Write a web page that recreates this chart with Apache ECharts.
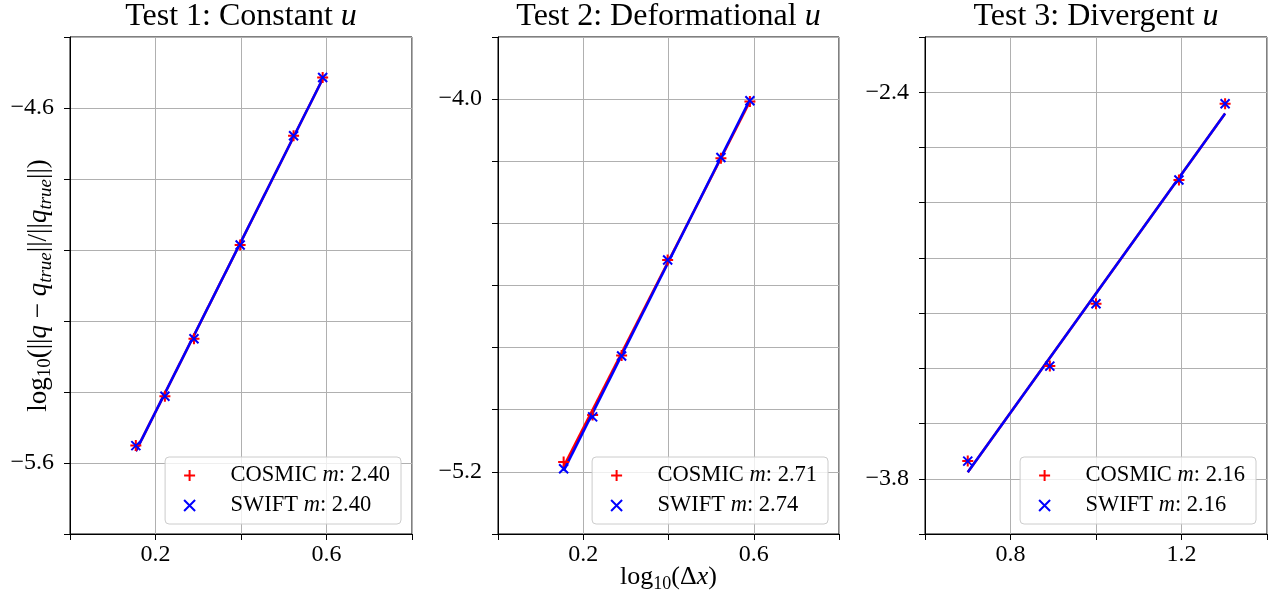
<!DOCTYPE html>
<html>
<head>
<meta charset="utf-8">
<script src="https://cdn.jsdelivr.net/npm/echarts@6/dist/echarts.min.js"></script>
<style>
  html, body { margin: 0; padding: 0; background: #fff; }
  #chart { width: 1275px; height: 593px; }
</style>
</head>
<body>
<div id="chart"></div>
<script>
// log10(dx) values, shared by tests 1 and 2
const xTest12 = [0.154, 0.222, 0.290, 0.398, 0.523, 0.591];
const xTest3 = [0.700, 0.892, 1.000, 1.194, 1.302];

// log10 of relative error
const cosmic1 = [-5.551, -5.412, -5.250, -4.986, -4.678, -4.514];
const swift1  = [-5.551, -5.412, -5.250, -4.986, -4.678, -4.514];
const cosmic2 = [-5.168, -5.017, -4.825, -4.518, -4.190, -4.008];
const swift2  = [-5.190, -5.023, -4.827, -4.518, -4.188, -4.005];
const cosmic3 = [-3.736, -3.392, -3.166, -2.718, -2.442];
const swift3  = [-3.736, -3.392, -3.166, -2.718, -2.442];

// slopes printed in the legends
const cosmicSlopes = ['2.40', '2.71', '2.16'];
const swiftSlopes  = ['2.40', '2.74', '2.16'];

const titles = ['Test 1: Constant ', 'Test 2: Deformational ', 'Test 3: Divergent '];

// tick labels that are actually written
const xLabels1 = [0.2, 0.6];
const xLabels2 = [0.2, 0.6];
const xLabels3 = [0.8, 1.2];
const yLabels1 = [-4.6, -5.6];
const yLabels2 = [-4.0, -5.2];
const yLabels3 = [-2.4, -3.8];

const FONT = 'Liberation Serif';
const PLUS = 'path://M-1 0L1 0M0 -1L0 1';
const CROSS = 'path://M-1 -1L1 1M-1 1L1 -1';

// least squares fit, returns the two end points of the line
function fitLine(xs, ys) {
    var n = xs.length, mx = 0, my = 0;
    for (var i = 0; i < n; i++) { mx += xs[i]; my += ys[i]; }
    mx /= n; my /= n;
    var sxy = 0, sxx = 0;
    for (var i = 0; i < n; i++) {
        sxy += (xs[i] - mx) * (ys[i] - my);
        sxx += (xs[i] - mx) * (xs[i] - mx);
    }
    var b = sxy / sxx, a = my - b * mx;
    var x0 = Math.min.apply(null, xs), x1 = Math.max.apply(null, xs);
    return [[x0, a + b * x0], [x1, a + b * x1]];
}

function pairs(xs, ys) {
    return xs.map(function (x, i) { return [x, ys[i]]; });
}

function fmt(v) {
    return v.toFixed(1).replace('-', '\u2212');
}

function rt(size, extra) {
    return Object.assign({ fontFamily: FONT, fontSize: size, color: '#000', fontWeight: 'normal' }, extra || {});
}

const richX = {
    n: rt(26, { lineHeight: 32 }),
    i: rt(26, { fontStyle: 'italic', lineHeight: 32 }),
    s: rt(18, { lineHeight: 32, verticalAlign: 'bottom' })
};
const richY = {
    n: rt(27, { lineHeight: 32 }),
    i: rt(27, { fontStyle: 'italic', lineHeight: 32 }),
    s: rt(19, { lineHeight: 32, verticalAlign: 'bottom' }),
    si: rt(19, { fontStyle: 'italic', lineHeight: 32, verticalAlign: 'bottom' })
};

const grids = [
    { left: 70, top: 37, width: 342, height: 497 },
    { left: 498, top: 37, width: 341, height: 497 },
    { left: 925, top: 37, width: 342, height: 497 }
];
const xRanges = [[0, 0.8], [0, 0.8], [0.6, 1.4]];
const yRanges = [[-5.8, -4.4], [-5.4, -3.8], [-4.0, -2.2]];
const xLabelSets = [xLabels1, xLabels2, xLabels3];
const yLabelSets = [yLabels1, yLabels2, yLabels3];
const xData = [xTest12, xTest12, xTest3];
const cosmicData = [cosmic1, cosmic2, cosmic3];
const swiftData = [swift1, swift2, swift3];

function axisCommon(labels) {
    return {
        axisLine: { show: true, lineStyle: { color: '#000', width: 1 } },
        axisTick: { show: true, length: 6, lineStyle: { color: '#000', width: 1 } },
        splitLine: { show: true, lineStyle: { color: '#b0b0b0', width: 1 } },
        axisLabel: {
            fontFamily: FONT, fontSize: 24, color: '#000',
            showMinLabel: true, showMaxLabel: true,
            formatter: function (v) {
                var r = Math.round(v * 10) / 10;
                return labels.indexOf(r) >= 0 ? fmt(r) : '';
            }
        }
    };
}

var xAxes = [], yAxes = [], series = [], legends = [], titleList = [];
for (var k = 0; k < 3; k++) {
    var g = grids[k];
    titleList.push({
        text: '{n|' + titles[k] + '}{i|u}',
        left: g.left + g.width / 2,
        top: 0,
        padding: 0,
        textAlign: 'center',
        textStyle: {
            fontWeight: 'normal',
            rich: {
                n: rt(32, { lineHeight: 34 }),
                i: rt(32, { fontStyle: 'italic', lineHeight: 34 })
            }
        }
    });
    var xa = Object.assign({
        type: 'value', gridIndex: k,
        min: xRanges[k][0], max: xRanges[k][1], interval: 0.2
    }, axisCommon(xLabelSets[k]));
    xa.axisLabel.margin = 9;
    if (k === 1) {
        xa.name = '{n|log}{s|10}{n|(\u0394}{i|x}{n|)}';
        xa.nameLocation = 'middle';
        xa.nameGap = 27;
        xa.nameMoveOverlap = false;
        xa.nameTextStyle = { fontFamily: FONT, fontSize: 26, color: '#000', rich: richX };
    }
    xAxes.push(xa);
    var ya = Object.assign({
        type: 'value', gridIndex: k,
        min: yRanges[k][0], max: yRanges[k][1], interval: 0.2
    }, axisCommon(yLabelSets[k]));
    ya.axisLabel.margin = 16;
    if (k === 0) {
        ya.name = '{n|log}{s|10}{n|(||}{i|q}{n| \u2212 }{i|q}{si|true}{n|||/||}{i|q}{si|true}{n|||)}';
        ya.nameLocation = 'middle';
        ya.nameRotate = 90;
        ya.nameGap = 15;
        ya.nameMoveOverlap = false;
        ya.nameTextStyle = { fontFamily: FONT, fontSize: 27, color: '#000', rich: richY };
    }
    yAxes.push(ya);

    var cName = 'COSMIC m: ' + cosmicSlopes[k];
    var sName = 'SWIFT m: ' + swiftSlopes[k];
    series.push({
        name: 'COSMIC fit ' + k, type: 'line', xAxisIndex: k, yAxisIndex: k,
        data: fitLine(xData[k], cosmicData[k]), showSymbol: false, symbol: 'none',
        lineStyle: { color: '#ff0000', width: 2.5 }, z: 2, silent: true
    });
    series.push({
        name: 'SWIFT fit ' + k, type: 'line', xAxisIndex: k, yAxisIndex: k,
        data: fitLine(xData[k], swiftData[k]), showSymbol: false, symbol: 'none',
        lineStyle: { color: '#0000ff', width: 2.5 }, z: 3, silent: true
    });
    series.push({
        name: cName, type: 'scatter', xAxisIndex: k, yAxisIndex: k,
        data: pairs(xData[k], cosmicData[k]), symbol: PLUS, symbolSize: 11,
        itemStyle: { color: '#ff0000', borderColor: '#ff0000', borderWidth: 2, opacity: 1 },
        z: 4, silent: true
    });
    series.push({
        name: sName, type: 'scatter', xAxisIndex: k, yAxisIndex: k,
        data: pairs(xData[k], swiftData[k]), symbol: CROSS, symbolSize: 9,
        itemStyle: { color: '#0000ff', borderColor: '#0000ff', borderWidth: 2, opacity: 1 },
        z: 5, silent: true
    });
    legends.push({
        data: [cName, sName],
        orient: 'vertical',
        right: 1275 - (g.left + g.width - 11),
        top: 457,
        padding: [7, 11, 7, 18],
        itemGap: 7,
        itemWidth: 24,
        itemHeight: 11,
        selectedMode: false,
        backgroundColor: 'rgba(255,255,255,0.8)',
        borderColor: '#cccccc',
        borderWidth: 1,
        borderRadius: 4,
        itemStyle: { borderWidth: 2, opacity: 1 },
        formatter: function (name) {
            return '{n|' + name.replace(' m:', ' }{i|m}{n|:') + '}';
        },
        textStyle: {
            padding: [0, 0, 0, 24],
            rich: {
                n: rt(22.5, { lineHeight: 22 }),
                i: rt(22.5, { fontStyle: 'italic', lineHeight: 22 })
            }
        }
    });
}

var chart = echarts.init(document.getElementById('chart'));
chart.setOption({
    animation: false,
    backgroundColor: '#fff',
    title: titleList,
    grid: grids.map(function (g) {
        return Object.assign({ show: true, borderColor: '#000', borderWidth: 1, containLabel: false, outerBoundsMode: 'none' }, g);
    }),
    xAxis: xAxes,
    yAxis: yAxes,
    legend: legends,
    series: series
});
</script>
</body>
</html>
